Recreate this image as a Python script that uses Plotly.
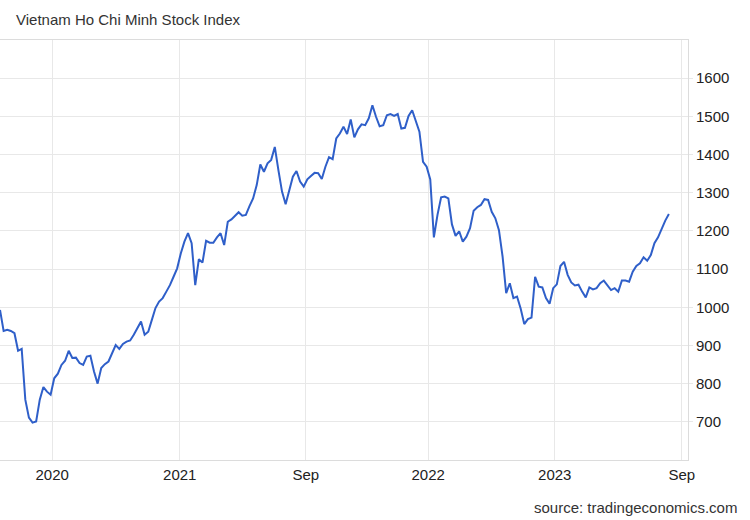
import pandas as pd
import plotly.graph_objects as go

# Weekly closes
start_date = "2020-01-24"
n_weeks = 186
values = [
    993, 938, 941, 938, 932, 886, 891, 758, 711, 698,
    701, 758, 791, 779, 771, 814, 826, 849, 860, 886,
    867, 868, 854, 849, 871, 873, 832, 800, 841, 851,
    858, 880, 901, 891, 904, 910, 913, 928, 945, 963,
    928, 936, 967, 998, 1015, 1024, 1041, 1058, 1080, 1102,
    1141, 1172, 1194, 1168, 1058, 1126, 1117, 1174, 1169, 1169,
    1183, 1194, 1163, 1224, 1230, 1239, 1249, 1240, 1242, 1265,
    1285, 1320, 1374, 1355, 1377, 1386, 1420, 1359, 1303, 1270,
    1307, 1342, 1357, 1329, 1316, 1335, 1344, 1352, 1351, 1336,
    1368, 1393, 1388, 1442, 1455, 1473, 1454, 1492, 1445, 1466,
    1479, 1477, 1495, 1529, 1499, 1474, 1477, 1503, 1506, 1501,
    1506, 1468, 1470, 1501, 1516, 1486, 1460, 1381, 1368, 1335,
    1183, 1242, 1288, 1290, 1285, 1217, 1187, 1199, 1172, 1185,
    1207, 1253, 1262, 1268, 1283, 1281, 1250, 1233, 1202, 1133,
    1037, 1063, 1024, 1028, 997, 956, 969, 973, 1080, 1054,
    1052, 1024, 1009, 1050, 1060, 1108, 1119, 1085, 1065, 1057,
    1059, 1041, 1026, 1052, 1047, 1050, 1063, 1070, 1056, 1045,
    1050, 1041, 1070, 1070, 1067, 1093, 1108, 1115, 1131, 1122,
    1137, 1168, 1183, 1207, 1227, 1244,
]
dates = pd.date_range(start_date, periods=n_weeks, freq="7D")

x_tick_vals = ["2020-05-04", "2021-01-06", "2021-09-07", "2022-05-02", "2023-01-02", "2023-09-05"]
x_tick_text = ["2020", "2021", "Sep", "2022", "2023", "Sep"]
y_tick_vals = [700, 800, 900, 1000, 1100, 1200, 1300, 1400, 1500, 1600]

title_text = "Vietnam Ho Chi Minh Stock Index"
source_text = "source: tradingeconomics.com"

FONT = "Liberation Sans, Arial, sans-serif"
GRID = "#e8e8e8"

fig = go.Figure()
fig.add_trace(go.Scatter(
    x=dates, y=values, mode="lines",
    line=dict(color="#2f5fc9", width=2),
    hoverinfo="x+y", showlegend=False,
))

fig.update_layout(
    width=750, height=520,
    margin=dict(l=0, r=62, t=40, b=60),
    paper_bgcolor="white", plot_bgcolor="white",
    font=dict(family=FONT, size=15, color="#222"),
    xaxis=dict(
        type="date",
        range=["2020-01-24", "2023-09-17"],
        tickvals=x_tick_vals, ticktext=x_tick_text,
        showgrid=True, gridcolor=GRID, gridwidth=1,
        showline=True, linecolor="#dcdcdc", linewidth=1, mirror=True,
        ticks="", ticklabelstandoff=1,
        tickfont=dict(family=FONT, size=15, color="#222"),
        zeroline=False,
    ),
    yaxis=dict(
        side="right",
        range=[600, 1700],
        tickvals=y_tick_vals,
        showgrid=True, gridcolor=GRID, gridwidth=1,
        showline=True, linecolor="#dcdcdc", linewidth=1,
        ticks="outside", ticklen=4, tickcolor=GRID,
        tickfont=dict(family=FONT, size=15, color="#222"),
        zeroline=False,
    ),
    annotations=[
        dict(text=title_text, xref="paper", yref="paper",
             x=14 / 688, y=1 + 20 / 420, xanchor="left", yanchor="middle",
             showarrow=False, font=dict(family=FONT, size=15, color="#333")),
        dict(text=source_text, xref="paper", yref="paper",
             x=739 / 688, y=-47 / 420, xanchor="right", yanchor="middle",
             showarrow=False, font=dict(family=FONT, size=15, color="#333")),
    ],
)

fig.write_html(
    "out.html",
    config={"displayModeBar": False},
    post_script="document.body.style.margin='0';document.body.style.overflow='hidden';",
)
